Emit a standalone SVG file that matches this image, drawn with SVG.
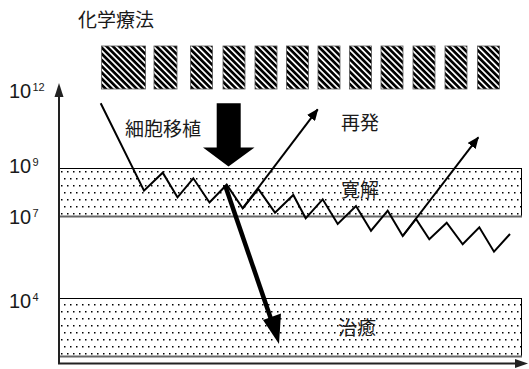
<svg xmlns="http://www.w3.org/2000/svg" width="529" height="369" viewBox="0 0 529 369">
<defs>
  <pattern id="hatch" patternUnits="userSpaceOnUse" width="4.4" height="4.4" patternTransform="rotate(-45)">
    <rect width="4.4" height="4.4" fill="#000"/>
    <rect x="0" y="0" width="1.7" height="4.4" fill="#fff"/>
  </pattern>
  <pattern id="dots" patternUnits="userSpaceOnUse" x="60" y="169" width="6" height="14">
    <rect width="6" height="14" fill="#fff"/>
    <rect x="1" y="2" width="1.5" height="1.5" fill="#000"/>
    <rect x="4" y="9" width="1.5" height="1.5" fill="#000"/>
  </pattern>
  <marker id="ah" viewBox="0 0 12 10" refX="11" refY="5" markerWidth="12" markerHeight="10" markerUnits="userSpaceOnUse" orient="auto">
    <path d="M0,0 L12,5 L0,10 Z" fill="#000"/>
  </marker>
</defs>
<style>
  .cjk { font-family: "Liberation Sans", "Noto Sans CJK JP", sans-serif; font-size: 19px; fill: #1a1a1a; }
  .num { font-family: "Liberation Sans", Arial, sans-serif; font-size: 20px; fill: #1a1a1a; }
  .sup { font-family: "Liberation Sans", Arial, sans-serif; font-size: 11px; fill: #1a1a1a; }
  .hb { fill: url(#hatch); stroke: #555; stroke-width: 0.8; }
  .band { fill: url(#dots); stroke: #000; stroke-width: 1; }
  .bandbot { stroke: #666; stroke-width: 1.8; fill: none; }
  .zig { fill: none; stroke: #000; stroke-width: 2; stroke-linejoin: miter; }
  .rel { fill: none; stroke: #000; stroke-width: 2; }
  .axis { stroke: #222; stroke-width: 2; fill: none; }
</style>

<g id="remission-band">
  <rect class="band" x="59.5" y="168.5" width="462" height="48"/>
  <line class="bandbot" x1="59" y1="216.5" x2="522" y2="216.5"/>
  <text class="cjk" x="341" y="197">寛解</text>
</g>
<g id="cure-band">
  <rect class="band" x="59.5" y="298.5" width="462" height="58"/>
  <line class="bandbot" x1="59" y1="356.5" x2="522" y2="356.5"/>
  <text class="cjk" x="338" y="335">治癒</text>
</g>

<g id="axes">
  <line class="axis" x1="59" y1="364" x2="59" y2="95"/>
  <path d="M59,83 L63.5,97 L54.5,97 Z" fill="#222"/>
  <line class="axis" x1="58" y1="363.5" x2="517" y2="363.5"/>
  <path d="M528,363.5 L515,359 L515,368 Z" fill="#222"/>
</g>

<g id="y-labels">
  <text class="num" x="9" y="98">10</text><text class="sup" x="32.5" y="91">12</text>
  <text class="num" x="9" y="173">10</text><text class="sup" x="32.5" y="166">9</text>
  <text class="num" x="9" y="224">10</text><text class="sup" x="32.5" y="217">7</text>
  <text class="num" x="9" y="308">10</text><text class="sup" x="32.5" y="301">4</text>
</g>

<g id="chemotherapy">
  <text class="cjk" x="78" y="27">化学療法</text>
  <rect class="hb" x="101.5" y="46" width="44" height="43"/>
  <rect class="hb" x="154" y="46" width="23" height="43"/>
  <rect class="hb" x="190.5" y="46" width="22" height="43"/>
  <rect class="hb" x="223" y="46" width="22" height="43"/>
  <rect class="hb" x="255" y="46" width="22" height="43"/>
  <rect class="hb" x="286.5" y="46" width="22" height="43"/>
  <rect class="hb" x="318" y="46" width="22" height="43"/>
  <rect class="hb" x="349.5" y="46" width="22" height="43"/>
  <rect class="hb" x="381" y="46" width="22" height="43"/>
  <rect class="hb" x="413" y="46" width="22" height="43"/>
  <rect class="hb" x="445" y="46" width="22" height="43"/>
  <rect class="hb" x="477.5" y="46" width="22" height="43"/>
</g>

<g id="transplant">
  <text class="cjk" x="125" y="136">細胞移植</text>
  <path d="M216.7,103.3 L240.7,103.3 L240.7,147.5 L254.5,147.5 L228.5,166.5 L203,147.5 L216.7,147.5 Z" fill="#000"/>
</g>

<g id="relapse-label">
  <text class="cjk" x="341" y="130">再発</text>
</g>

<g id="connectors">
  <polyline class="zig" points="100.7,103.3 144,190.7 162.7,172.7 177.5,197.3 193.3,178.3 209.5,202.5 226.7,184.7 242.7,208.3 258.3,189 275,212.7 293.3,195 305.7,218.3 322.7,199.3 337.7,224 356,206 371,230.7 387.7,210.7 402.7,236 416,219 429.3,239.3 446.7,222.7 462.7,244.3 479.3,227.3 494,251.7 510,234"/>
  <line class="rel" x1="242.7" y1="208.3" x2="317.7" y2="109.3" marker-end="url(#ah)"/>
  <line class="rel" x1="402.7" y1="236" x2="478.3" y2="137.3" marker-end="url(#ah)"/>
  <line x1="225" y1="185" x2="272" y2="322" stroke="#000" stroke-width="4.5"/>
  <path d="M279,344 L263,320 L281,313.5 Z" fill="#000"/>
</g>
</svg>
